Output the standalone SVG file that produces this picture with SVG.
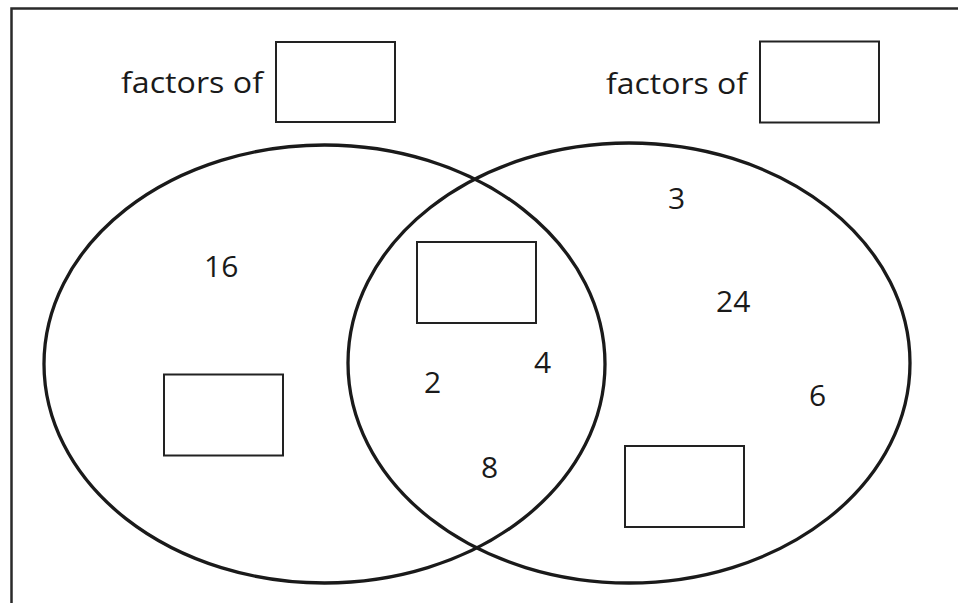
<svg xmlns="http://www.w3.org/2000/svg" width="958" height="603" viewBox="0 0 958 603">
<style>
text{font-family:"Open Sans","Liberation Sans",sans-serif;font-size:30px;fill:#1a1a1a}
.box{fill:#fff;stroke:#222;stroke-width:2}
.set{fill:none;stroke:#1a1a1a;stroke-width:3.3}
</style>
<rect x="0" y="0" width="958" height="603" fill="#fff"/>
<rect x="11.5" y="8.5" width="970" height="620" fill="none" stroke="#2a2a2a" stroke-width="2.5"/>
<g id="connectors"></g>
<g id="setA"><ellipse class="set" cx="324.5" cy="364" rx="280.5" ry="219"/></g>
<g id="setB"><ellipse class="set" cx="629" cy="363" rx="281" ry="220"/></g>
<g id="labelA"><text x="121" y="93" textLength="142" lengthAdjust="spacingAndGlyphs">factors of</text><rect class="box" x="276" y="42" width="119" height="80"/></g>
<g id="labelB"><text x="606" y="94" textLength="141" lengthAdjust="spacingAndGlyphs">factors of</text><rect class="box" x="760" y="41.5" width="119" height="81"/></g>
<g id="n16"><text x="204" y="277">16</text></g>
<g id="boxA"><rect class="box" x="164" y="374.5" width="119" height="81"/></g>
<g id="boxAB"><rect class="box" x="417" y="242" width="119" height="81"/></g>
<g id="n2"><text x="424" y="393">2</text></g>
<g id="n4"><text x="534" y="373">4</text></g>
<g id="n8"><text x="481" y="478">8</text></g>
<g id="n3"><text x="668" y="209">3</text></g>
<g id="n24"><text x="716" y="312">24</text></g>
<g id="n6"><text x="809" y="406">6</text></g>
<g id="boxB"><rect class="box" x="625" y="446" width="119" height="81"/></g>
</svg>
